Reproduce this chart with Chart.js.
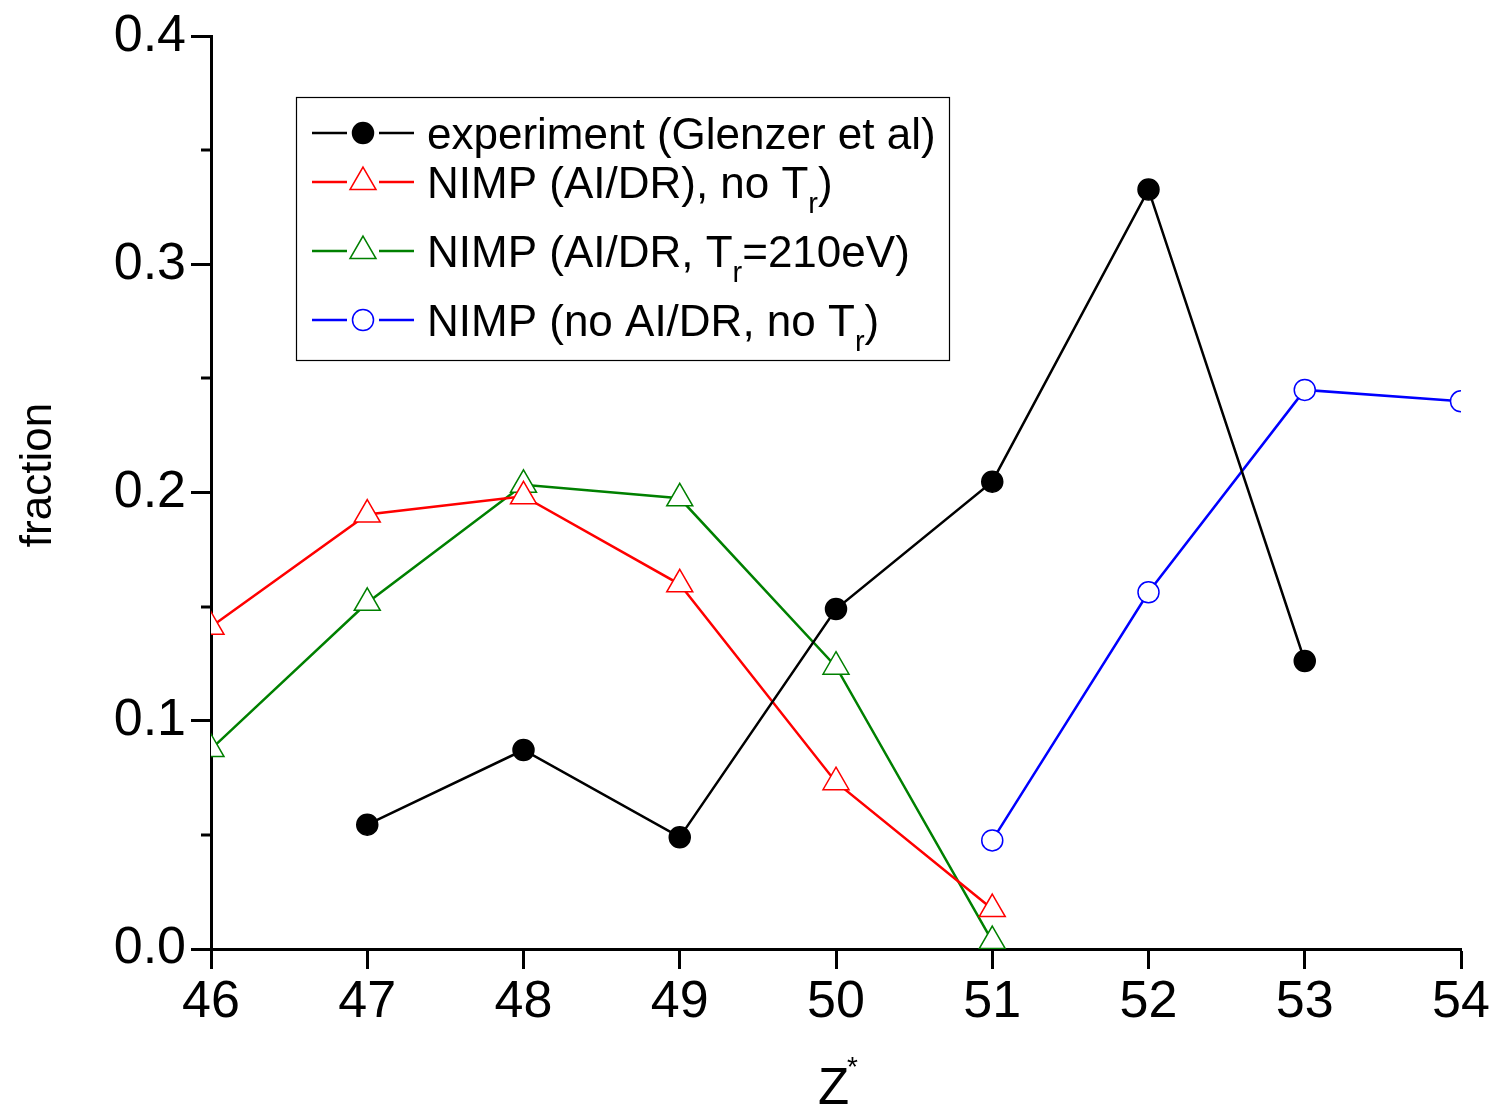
<!DOCTYPE html>
<html>
<head>
<meta charset="utf-8">
<script src="https://cdn.jsdelivr.net/npm/chart.js"></script>
<style>
  body { margin: 0; background: #fff; }
  #wrap { width: 1493px; height: 1107px; }
</style>
</head>
<body>
<div id="wrap"><canvas id="fracChart" width="1493" height="1107"></canvas></div>
<script>
// valeurs
const expZ = [47, 48, 49, 50, 51, 52, 53];
const expFrac = [0.0545, 0.0872, 0.0490, 0.149, 0.2048, 0.3328, 0.1262];

const noTrZ = [46, 47, 48, 49, 50, 51];
const noTrFrac = [0.1412, 0.1904, 0.1984, 0.1598, 0.0731, 0.0175];

const trZ = [46, 47, 48, 49, 50, 51];
const trFrac = [0.0876, 0.1517, 0.2034, 0.1975, 0.1237, 0.0035];

const noAiZ = [51, 52, 53, 54];
const noAiFrac = [0.0476, 0.1563, 0.2450, 0.2400];

const yMinorTicks = [0.05, 0.15, 0.25, 0.35];

const FONT = '"Liberation Sans", Arial, sans-serif';

function pts(xs, ys) {
  return xs.map((x, i) => ({ x: x, y: ys[i] }));
}

// legende : couleur, forme, rempli, morceaux de texte (texte, indice)
const legendRows = [
  { color: '#000000', style: 'circle', fill: true, y: 133, parts: [['experiment (Glenzer et al)', false]] },
  { color: '#ff0000', style: 'triangle', fill: false, y: 182, parts: [['NIMP (AI/DR), no T', false], ['r', true], [')', false]] },
  { color: '#008000', style: 'triangle', fill: false, y: 251, parts: [['NIMP (AI/DR, T', false], ['r', true], ['=210eV)', false]] },
  { color: '#0000ff', style: 'circle', fill: false, y: 320, parts: [['NIMP (no AI/DR, no T', false], ['r', true], [')', false]] }
];

const extras = {
  id: 'extras',
  afterDraw(chart) {
    const ctx = chart.ctx;
    const y = chart.scales.y;
    const x = chart.scales.x;
    ctx.save();

    // petites graduations
    ctx.strokeStyle = '#000';
    ctx.lineWidth = 3;
    yMinorTicks.forEach(v => {
      const py = Math.round(y.getPixelForValue(v));
      ctx.beginPath();
      ctx.moveTo(x.left - 10, py);
      ctx.lineTo(x.left, py);
      ctx.stroke();
    });

    // titres des axes
    ctx.fillStyle = '#000';
    ctx.font = '51px ' + FONT;
    ctx.textBaseline = 'alphabetic';
    ctx.textAlign = 'left';
    ctx.fillText('Z', 818, 1104);
    ctx.font = '28px ' + FONT;
    ctx.fillText('*', 847, 1076);

    ctx.save();
    ctx.translate(51, 475);
    ctx.rotate(-Math.PI / 2);
    ctx.font = '44px ' + FONT;
    ctx.textAlign = 'center';
    ctx.fillText('fraction', 0, 0);
    ctx.restore();

    // cadre de la legende
    ctx.lineWidth = 1.2;
    ctx.strokeStyle = '#000';
    ctx.strokeRect(296.5, 97.5, 653, 263);

    legendRows.forEach(row => {
      ctx.strokeStyle = row.color;
      ctx.lineWidth = 2.5;
      ctx.beginPath();
      ctx.moveTo(312, row.y);
      ctx.lineTo(347, row.y);
      ctx.moveTo(379, row.y);
      ctx.lineTo(414, row.y);
      ctx.stroke();

      ctx.lineWidth = 1.5;
      ctx.fillStyle = row.fill ? row.color : '#fff';
      Chart.helpers.drawPoint(ctx, {
        pointStyle: row.style,
        radius: row.style === 'triangle' ? 15 : 10.5,
        rotation: 0,
        borderWidth: 1.5
      }, 363, row.y);

      ctx.fillStyle = '#000';
      let tx = 427;
      row.parts.forEach(([txt, sub]) => {
        ctx.font = (sub ? '29px ' : '44px ') + FONT;
        ctx.fillText(txt, tx, row.y + (sub ? 31 : 16));
        tx += ctx.measureText(txt).width;
      });
    });

    ctx.restore();
  }
};

const ctx = document.getElementById('fracChart').getContext('2d');
new Chart(ctx, {
  type: 'line',
  data: {
    datasets: [{
      label: 'experiment (Glenzer et al)',
      data: pts(expZ, expFrac),
      borderColor: '#000000',
      backgroundColor: '#000000',
      pointBackgroundColor: '#000000',
      pointStyle: 'circle',
      pointRadius: 10.5,
      pointBorderWidth: 1.5,
      borderWidth: 2.5
    }, {
      label: 'NIMP (AI/DR), no Tr)',
      data: pts(noTrZ, noTrFrac),
      borderColor: '#ff0000',
      pointBackgroundColor: '#ffffff',
      pointStyle: 'triangle',
      pointRadius: 15,
      pointBorderWidth: 1.5,
      borderWidth: 2.5
    }, {
      label: 'NIMP (AI/DR, Tr=210eV)',
      data: pts(trZ, trFrac),
      borderColor: '#008000',
      pointBackgroundColor: '#ffffff',
      pointStyle: 'triangle',
      pointRadius: 15,
      pointBorderWidth: 1.5,
      borderWidth: 2.5
    }, {
      label: 'NIMP (no AI/DR, no Tr)',
      data: pts(noAiZ, noAiFrac),
      borderColor: '#0000ff',
      pointBackgroundColor: '#ffffff',
      pointStyle: 'circle',
      pointRadius: 10.5,
      pointBorderWidth: 1.5,
      borderWidth: 2.5
    }]
  },
  options: {
    responsive: false,
    animation: false,
    clip: 0,
    layout: { padding: { top: 33, right: 32, left: 0, bottom: 0 } },
    plugins: {
      legend: { display: false },
      tooltip: { enabled: false }
    },
    scales: {
      x: {
        type: 'linear',
        min: 46,
        max: 54,
        afterFit: s => { s.height = 158; },
        ticks: {
          stepSize: 1,
          color: '#000',
          padding: 2,
          maxRotation: 0,
          font: { family: FONT, size: 52 },
          callback: v => String(v)
        },
        grid: {
          drawOnChartArea: false,
          drawTicks: true,
          tickLength: 20,
          tickWidth: 3,
          tickColor: '#000'
        },
        border: { color: '#000', width: 3 }
      },
      y: {
        min: 0,
        max: 0.4,
        afterFit: s => { s.width = 211; },
        ticks: {
          stepSize: 0.1,
          color: '#000',
          padding: 5,
          font: { family: FONT, size: 52 },
          callback: v => v.toFixed(1)
        },
        grid: {
          drawOnChartArea: false,
          drawTicks: true,
          tickLength: 20,
          tickWidth: 3,
          tickColor: '#000'
        },
        border: { color: '#000', width: 3 }
      }
    }
  },
  plugins: [extras]
});
</script>
</body>
</html>
